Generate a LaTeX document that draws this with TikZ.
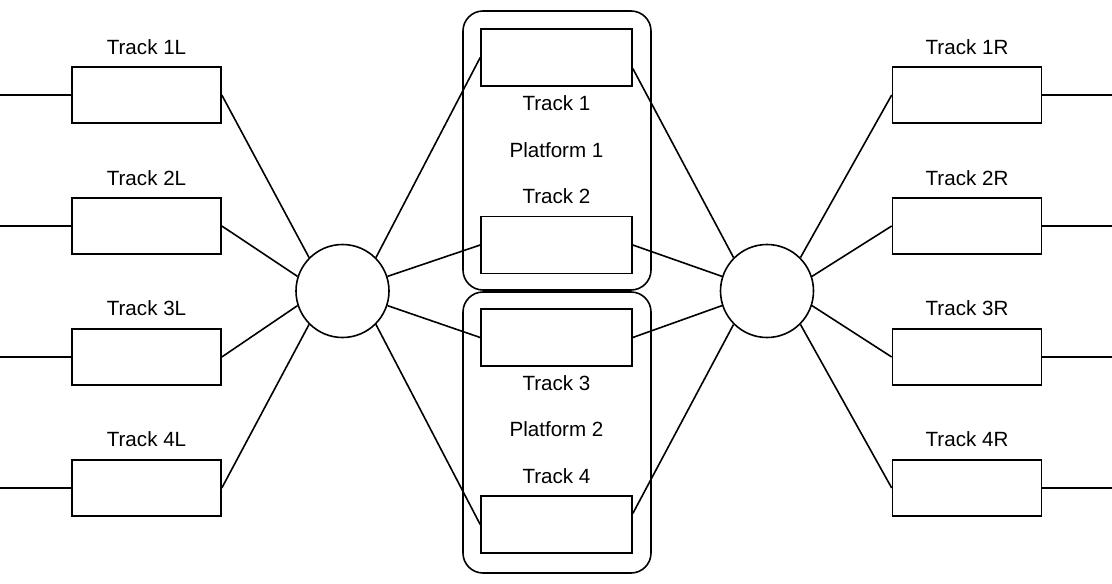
\documentclass[tikz,border=0pt]{standalone}
\usepackage{fontspec}
\setmainfont{Liberation Sans}
\usetikzlibrary{calc}
\begin{document}
\begin{tikzpicture}[x=0.5pt,y=-0.5pt,line width=0.8pt,
  trackbox/.style={draw,rectangle,inner sep=0pt,minimum width=74.5pt,minimum height=28pt},
  platbox/.style={draw,rectangle,inner sep=0pt,minimum width=75.5pt,minimum height=28.5pt},
  platform/.style={draw,rectangle,rounded corners=10pt,inner sep=0pt,minimum width=94pt},
  junction/.style={draw,circle,inner sep=0pt,minimum size=46.5pt},
  lbl/.style={inner sep=0pt,font=\fontsize{10.3}{12}\selectfont}]
\useasboundingbox (0,0) rectangle (1112,583);
% platforms
\node[platform,minimum height=139.5pt] (P1) at (557,150.5) {};
\node[platform,minimum height=140.5pt] (P2) at (557,432.5) {};
% left boxes
\node[trackbox] (L1) at (146.5,95) {};
\node[trackbox] (L2) at (146.5,226) {};
\node[trackbox] (L3) at (146.5,357) {};
\node[trackbox] (L4) at (146.5,488) {};
% right boxes
\node[trackbox] (R1) at (967,95) {};
\node[trackbox] (R2) at (967,226) {};
\node[trackbox] (R3) at (967,357) {};
\node[trackbox] (R4) at (967,488) {};
% platform tracks
\node[platbox] (T1) at (556.5,57.5) {};
\node[platbox] (T2) at (556.5,245) {};
\node[platbox] (T3) at (556.5,337.5) {};
\node[platbox] (T4) at (556.5,524.5) {};
% junctions
\node[junction] (CL) at (342.5,291) {};
\node[junction] (CR) at (767,291) {};
% labels
\node[lbl] (lL1) at (146.5,47) {Track 1L};
\node[lbl] (lL2) at (146.5,178) {Track 2L};
\node[lbl] (lL3) at (146.5,308) {Track 3L};
\node[lbl] (lL4) at (146.5,439) {Track 4L};
\node[lbl] (lR1) at (967,47) {Track 1R};
\node[lbl] (lR2) at (967,178) {Track 2R};
\node[lbl] (lR3) at (967,308) {Track 3R};
\node[lbl] (lR4) at (967,439) {Track 4R};
\node[lbl] (lT1) at (556.5,103) {Track 1};
\node[lbl] (lP1) at (556.5,150) {Platform 1};
\node[lbl] (lT2) at (556.5,196) {Track 2};
\node[lbl] (lT3) at (556.5,383) {Track 3};
\node[lbl] (lP2) at (556.5,429) {Platform 2};
\node[lbl] (lT4) at (556.5,476) {Track 4};
% free ends
\coordinate (eL1) at (0,95);
\coordinate (eL2) at (0,226);
\coordinate (eL3) at (0,357);
\coordinate (eL4) at (0,488);
\coordinate (eR1) at (1112,95);
\coordinate (eR2) at (1112,226);
\coordinate (eR3) at (1112,357);
\coordinate (eR4) at (1112,488);
% connectors to free ends
\foreach \i in {1,2,3,4}{
  \draw (eL\i) -- (L\i.west);
  \draw (R\i.east) -- (eR\i);
}
% left side to left junction
\draw (L1.east) -- (CL.135);
\draw (L2.east) -- (CL.162);
\draw (L3.east) -- (CL.198);
\draw (L4.east) -- (CL.225);
% left junction to platform tracks
\draw (CL.45) -- (T1.west);
\draw (CL.18) -- (T2.west);
\draw (CL.-18) -- (T3.west);
\draw (CL.-45) -- (T4.west);
% platform tracks to right junction
\draw ($(T1.east)+(0,11)$) -- (CR.135);
\draw (T2.east) -- (CR.162);
\draw (T3.east) -- (CR.198);
\draw ($(T4.east)+(0,-11)$) -- (CR.225);
% right junction to right side
\draw (CR.45) -- (R1.west);
\draw (CR.18) -- (R2.west);
\draw (CR.-18) -- (R3.west);
\draw (CR.-45) -- (R4.west);
\end{tikzpicture}
\end{document}
